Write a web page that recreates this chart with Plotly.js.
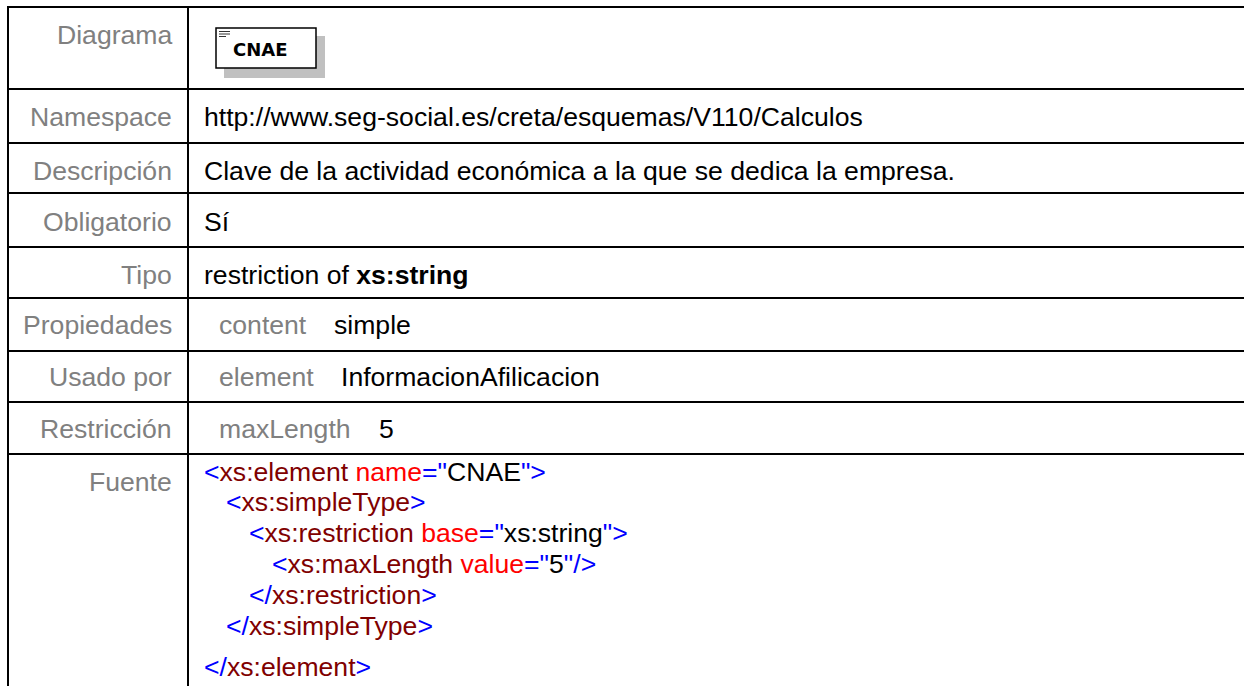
<!DOCTYPE html>
<html><head><meta charset="utf-8">
<script src="https://cdn.plot.ly/plotly-3.0.1.min.js"></script>
<style>html,body{margin:0;padding:0;background:#fff;overflow:hidden}</style>
</head><body><div id="chart" style="width:1244px;height:686px"></div>
<script>
const BLUE='#0000ff',RED='#ff0000',MAROON='#800000',BLACK='#000000',GREY='#808080';
const rowLabels=['Diagrama','Namespace','Descripción','Obligatorio','Tipo','Propiedades','Usado por','Restricción','Fuente'];
const labelY=[35,117,171,222,275,325,377,429,482];
const rowLines=[7,89,143,193,247,298,351,402,454];
const colLines=[8,188];
const plainValues=[
 ['http://www.seg-social.es/creta/esquemas/V110/Calculos',203,117],
 ['Clave de la actividad económica a la que se dedica la empresa.',203,171],
 ['Sí',203,222],
 ['restriction of <b>xs:string</b>',203,275]
];
const keyNames=[['content',218,325],['element',218,377],['maxLength',218,429]];
const keyValues=[['simple',333,325],['InformacionAfilicacion',340,377],['5',378,429]];
function c(col,t){return '<span style="color:'+col+'">'+t+'</span>';}
const sourceLines=[
 [c(BLUE,'&lt;')+c(MAROON,'xs:element ')+c(RED,'name')+c(BLUE,'="')+c(BLACK,'CNAE')+c(BLUE,'"&gt;'),203,472],
 [c(BLUE,'&lt;')+c(MAROON,'xs:simpleType')+c(BLUE,'&gt;'),225,502],
 [c(BLUE,'&lt;')+c(MAROON,'xs:restriction ')+c(RED,'base')+c(BLUE,'="')+c(BLACK,'xs:string')+c(BLUE,'"&gt;'),248,533],
 [c(BLUE,'&lt;')+c(MAROON,'xs:maxLength ')+c(RED,'value')+c(BLUE,'="')+c(BLACK,'5')+c(BLUE,'"/&gt;'),271,564],
 [c(BLUE,'&lt;/')+c(MAROON,'xs:restriction')+c(BLUE,'&gt;'),248,595],
 [c(BLUE,'&lt;/')+c(MAROON,'xs:simpleType')+c(BLUE,'&gt;'),225,626],
 [c(BLUE,'&lt;/')+c(MAROON,'xs:element')+c(BLUE,'&gt;'),203,667]
];
const FONT='"Liberation Sans", Arial, sans-serif';
const FS=26.6;
const shapes=[];
rowLines.forEach(y=>shapes.push({type:'line',x0:8,x1:1244,y0:y,y1:y,line:{color:'#000',width:2}}));
colLines.forEach(x=>shapes.push({type:'line',x0:x,x1:x,y0:6,y1:686,line:{color:'#000',width:2}}));
shapes.push({type:'rect',x0:224,x1:325,y0:36,y1:78,fillcolor:'#c0c0c0',line:{width:0}});
shapes.push({type:'rect',x0:216,x1:316,y0:28,y1:68,fillcolor:'#fff',line:{color:'#000',width:1.5}});
[[31.5,230],[34,230],[36.5,226]].forEach(p=>shapes.push({type:'line',x0:219,x1:p[1],y0:p[0],y1:p[0],line:{color:'#333',width:1}}));
const ann=[];
rowLabels.forEach((t,i)=>ann.push({text:t,x:173,y:labelY[i],xanchor:'right',yanchor:'middle',font:{color:GREY}}));
plainValues.forEach(r=>ann.push({text:r[0],x:r[1],y:r[2],xanchor:'left',yanchor:'middle',font:{color:BLACK}}));
keyNames.forEach(r=>ann.push({text:r[0],x:r[1],y:r[2],xanchor:'left',yanchor:'middle',font:{color:GREY}}));
keyValues.forEach(r=>ann.push({text:r[0],x:r[1],y:r[2],xanchor:'left',yanchor:'middle',font:{color:BLACK}}));
sourceLines.forEach(r=>ann.push({text:r[0],x:r[1],y:r[2],xanchor:'left',yanchor:'middle',font:{color:BLACK}}));
ann.push({text:'<b>CNAE</b>',x:232,y:49,xanchor:'left',yanchor:'middle',font:{color:BLACK,size:18,family:'"DejaVu Sans", sans-serif'}});
ann.forEach(a=>{a.xref='x';a.yref='y';a.showarrow=false;a.borderpad=0;a.font=Object.assign({family:FONT,size:FS},a.font);});
Plotly.newPlot('chart',[{x:[0],y:[0],mode:'markers',marker:{opacity:0},hoverinfo:'skip',showlegend:false}],{
 width:1244,height:686,margin:{l:0,r:0,t:0,b:0},paper_bgcolor:'#fff',plot_bgcolor:'#fff',showlegend:false,
 xaxis:{range:[0,1244],visible:false,fixedrange:true},
 yaxis:{range:[686,0],visible:false,fixedrange:true},
 shapes:shapes,annotations:ann
},{staticPlot:true,displayModeBar:false});
</script></body></html>
